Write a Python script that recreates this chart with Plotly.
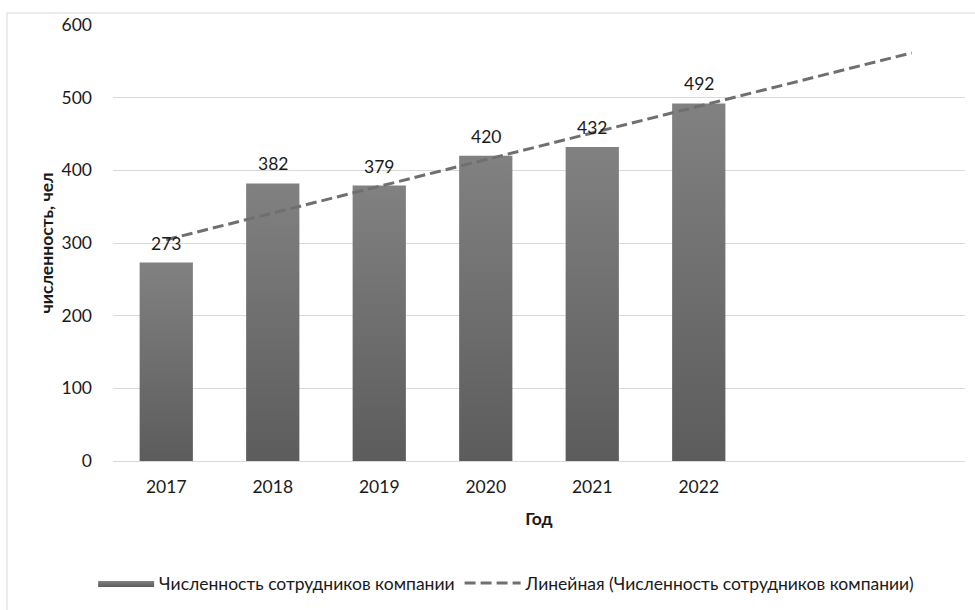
import numpy as np
import plotly.graph_objects as go

# Headcount by year
years = [2017, 2018, 2019, 2020, 2021, 2022]
headcount = [273, 382, 379, 420, 432, 492]
year_labels = ["2017", "2018", "2019", "2020", "2021", "2022"]
y_ticks = [0, 100, 200, 300, 400, 500, 600]

series_name = "Численность сотрудников компании"
trend_name = "Линейная (Численность сотрудников компании)"

FONT = "Lato, 'Open Sans', sans-serif"
FS = 17.5
TXT = "#1a1a1a"
BAR_HALF = 0.25
FORECAST = 2  # trendline extends two periods ahead

fig = go.Figure()

# Bars drawn as filled rectangles so each gets its own vertical gradient
for i, (yr, val) in enumerate(zip(years, headcount)):
    fig.add_trace(go.Scatter(
        x=[yr - BAR_HALF, yr + BAR_HALF, yr + BAR_HALF, yr - BAR_HALF, yr - BAR_HALF],
        y=[0, 0, val, val, 0],
        mode="lines",
        line=dict(width=0, color="#6e6e6e"),
        fill="toself",
        fillcolor="#6e6e6e",
        fillgradient=dict(type="vertical",
                          colorscale=[[0, "#5c5c5c"], [1, "#818181"]]),
        name=series_name,
        legendgroup="bars",
        showlegend=(i == 0),
        hoverinfo="skip",
    ))

# Linear least-squares trendline, extended forward
idx = np.arange(1, len(years) + 1)
slope, intercept = np.polyfit(idx, headcount, 1)
trend_x = [years[0], years[-1] + FORECAST]
trend_y = [intercept + slope * 1, intercept + slope * (len(years) + FORECAST)]
fig.add_trace(go.Scatter(
    x=trend_x, y=trend_y, mode="lines",
    line=dict(color="#6f6f6f", width=3, dash="11px,5px"),
    name=trend_name, hoverinfo="skip",
))

# Value labels above bars
for yr, val in zip(years, headcount):
    fig.add_annotation(x=yr, y=val, text=str(val), showarrow=False,
                       yanchor="bottom", yshift=7,
                       font=dict(size=FS, color=TXT, family=FONT))

# Outer chart border
fig.add_shape(type="rect", xref="paper", yref="paper",
              x0=-0.1244, x1=1.03, y0=-0.36, y1=1.0275,
              line=dict(color="#d9d9d9", width=1), layer="below")

fig.update_layout(
    width=975, height=610,
    margin=dict(l=113, r=10, t=25, b=148),
    paper_bgcolor="white", plot_bgcolor="white",
    font=dict(family=FONT, size=FS, color=TXT),
    xaxis=dict(
        range=[years[0] - 0.5, years[-1] + FORECAST + 0.5],
        tickmode="array", tickvals=years, ticktext=year_labels,
        showgrid=False, zeroline=False, showline=False, ticks="",
        ticklabelstandoff=13,
        tickfont=dict(size=FS, color=TXT),
        title=dict(text="<b>Год</b>", font=dict(size=FS, color=TXT), standoff=17),
    ),
    yaxis=dict(
        range=[0, 600], tickmode="array", tickvals=y_ticks,
        showgrid=True, gridcolor="#d9d9d9", gridwidth=1,
        zeroline=True, zerolinecolor="#d9d9d9", zerolinewidth=1,
        showline=False, ticks="", ticklabelstandoff=20,
        tickfont=dict(size=FS, color=TXT),
        title=dict(text="<b>численность, чел</b>", font=dict(size=FS, color=TXT), standoff=3),
    ),
    legend=dict(orientation="h", x=0.462, xanchor="center", y=-0.277, yanchor="middle",
                font=dict(size=FS, color=TXT), itemwidth=56,
                bgcolor="rgba(0,0,0,0)", traceorder="normal"),
    showlegend=True,
)

fig.write_html("out.html")
